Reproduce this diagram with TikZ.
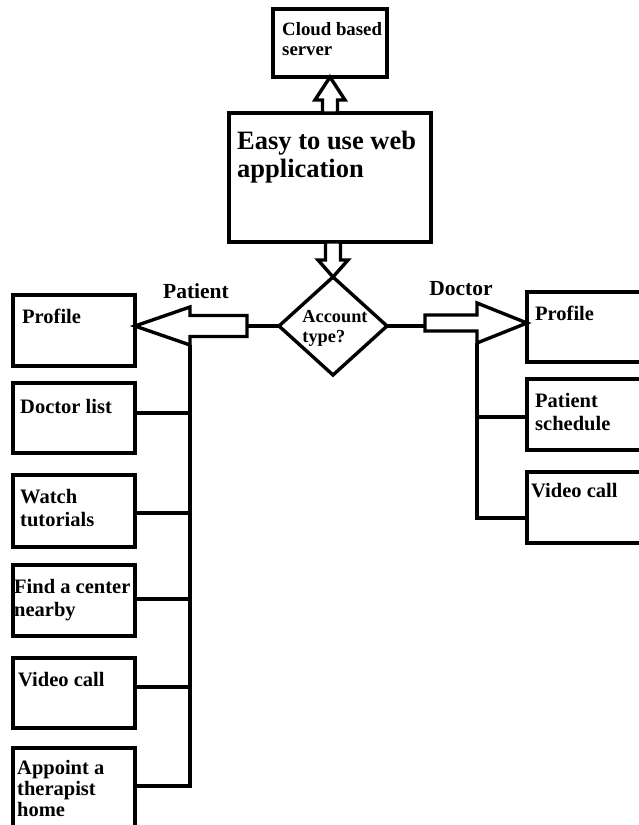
\documentclass[tikz,border=0pt]{standalone}
\usepackage{fontspec}
\setmainfont{Liberation Serif}
\usetikzlibrary{positioning}
\usetikzlibrary{calc}
\usetikzlibrary{shapes.geometric}
\tikzset{
  box/.style={draw, line width=3.4pt, rectangle, anchor=north west, inner sep=0pt, outer sep=0pt, minimum width=122, minimum height=71},
  txt/.style={anchor=north west, align=left, inner xsep=7, inner ysep=14, font=\bfseries\fontsize{20.5}{23}\selectfont},
  lbl/.style={anchor=base, inner sep=0pt, font=\bfseries\fontsize{21.5}{24}\selectfont},
  link/.style={line width=3.4pt},
  hollow/.style={draw, line width=3.4pt, fill=white, line join=miter},
  decision/.style={diamond, draw, line width=3.4pt, inner sep=0pt, outer sep=0pt, minimum width=108, minimum height=98}
}

\begin{document}
\begin{tikzpicture}[x=1pt, y=-1pt]
  \useasboundingbox (0,0) rectangle (639,825);
  % server and web application
  \node[box, minimum width=114, minimum height=68] (cloud) at (273,9) {};
  \node[txt, inner xsep=9, inner ysep=13, font=\bfseries\fontsize{18.8}{20}\selectfont] (cloudtxt) at (cloud.north west) {Cloud based\\server};
  \node[box, minimum width=202, minimum height=129] (web) at (229,113) {};
  \node[txt, inner xsep=8, inner ysep=18, font=\bfseries\fontsize{26.5}{28}\selectfont] (webtxt) at (web.north west) {Easy to use web\\application};
  \node[decision] (acct) at (333,326) {};
  \node[align=left, inner sep=0pt, font=\bfseries\fontsize{18.3}{20}\selectfont] (accttxt) at ($(acct.center)+(2,2)$) {Account\\type?};
  \draw[hollow] (cloud.south) -- ++(-15,23) -- ++(7.5,0) -- ++(0,13) -- ++(15,0) -- ++(0,-13) -- ++(7.5,0) -- cycle;
  \draw[hollow] (acct.north) -- ++(-15,-17) -- ++(7.5,0) -- ++(0,-18) -- ++(15,0) -- ++(0,18) -- ++(7.5,0) -- cycle;

  % patient side
  \node[box, minimum height=71] (pprofile) at (13,295) {};
  \node[box, minimum height=70] (pdoc) at (13,383) {};
  \node[box, minimum height=72] (pwatch) at (13,475) {};
  \node[box, minimum height=71] (pfind) at (13,565) {};
  \node[box, minimum height=70] (pvideo) at (13,658) {};
  \node[box, minimum height=90] (pappoint) at (13,748) {};
  \node[txt, inner xsep=9] (tpprofile) at (pprofile.north west) {Profile};
  \node[txt, inner ysep=16] (tpdoc) at (pdoc.north west) {Doctor list};
  \node[txt] (tpwatch) at (pwatch.north west) {Watch\\tutorials};
  \node[txt, inner xsep=1] (tpfind) at (pfind.north west) {Find a center\\nearby};
  \node[txt, inner xsep=5] (tpvideo) at (pvideo.north west) {Video call};
  \node[txt, inner xsep=4, inner ysep=12, font=\bfseries\fontsize{20.5}{21}\selectfont] (tpappoint) at (pappoint.north west) {Appoint a\\therapist\\home};
  \node[lbl] (plabel) at (196,298) {Patient};
  \draw[hollow] (pprofile.east |- acct.west) -- ++(55,-19) -- ++(0,8.5) -- ++(57,0) coordinate (ptail) -- ++(0,21) -- ++(-57,0) -- ++(0,8.5) coordinate (pfoot) -- cycle;
  \draw[link] (acct.west) -- (acct.west -| ptail);
  \draw[link] (pfoot) -- ($(pappoint.north east -| pfoot)+(0,38)$) -- ($(pappoint.north east)+(0,38)$);
  \foreach \b/\d in {pdoc/30, pwatch/38, pfind/34, pvideo/29}
    \draw[link] ($(\b.north east)+(0,\d)$) -- ($(\b.north east -| pfoot)+(0,\d)$);

  % doctor side
  \node[box, minimum width=130, minimum height=70] (dprofile) at (527,292) {};
  \node[box, minimum width=130, minimum height=71] (dsched) at (527,379) {};
  \node[box, minimum width=130, minimum height=71] (dvideo) at (527,472) {};
  \node[txt, inner xsep=8] (tdprofile) at (dprofile.north west) {Profile};
  \node[txt, inner xsep=8] (tdsched) at (dsched.north west) {Patient\\schedule};
  \node[txt, inner xsep=4, inner ysep=11] (tdvideo) at (dvideo.north west) {Video call};
  \node[lbl] (dlabel) at (461,295) {Doctor};
  \draw[hollow] ($(dprofile.west |- acct.east)+(0,-3)$) -- ++(-50,-20) -- ++(0,12) -- ++(-52,0) coordinate (dtail) -- ++(0,16) -- ++(52,0) -- ++(0,12) coordinate (dfoot) -- cycle;
  \draw[link] (acct.east) -- (acct.east -| dtail);
  \draw[link] (dfoot) -- ($(dvideo.north west -| dfoot)+(0,46)$) -- ($(dvideo.north west)+(0,46)$);
  \draw[link] ($(dsched.north west)+(0,38)$) -- ($(dsched.north west -| dfoot)+(0,38)$);
\end{tikzpicture}
\end{document}
